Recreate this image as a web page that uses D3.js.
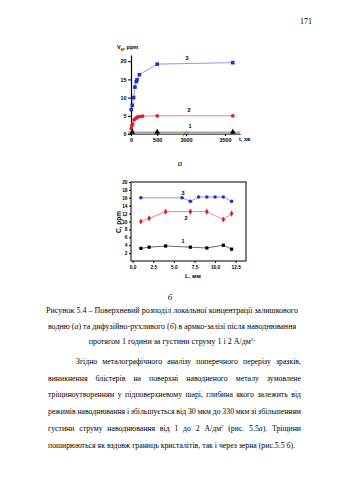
<!DOCTYPE html>
<html><head><meta charset="utf-8">
<script src="https://cdn.jsdelivr.net/npm/d3@7"></script>
<style>html,body{margin:0;padding:0;background:#fff}</style>
</head><body><svg id="s" width="339" height="480"></svg>
<script>
// ---------- DATA ----------
// Chart (а): residual hydrogen vs time
const a3_t = [5, 25, 50, 75, 100, 115, 160, 500, 3600];
const a3_v = [6.7, 7.9, 10.0, 12.9, 14.4, 14.9, 16.3, 19.2, 19.6];
const a2_t = [5, 15, 30, 60, 90, 120, 160, 220, 500, 3600];
const a2_v = [1.5, 2.2, 2.7, 3.9, 4.3, 4.6, 4.8, 4.9, 5.0, 5.0];
const a1_t = [25, 500, 3600];
const a1_v = [0.4, 0.4, 0.4];
const aXTicks = [0, 500, 3000, 3500];
const aYTicks = [0, 5, 10, 15, 20];
// Chart (б): diffusible hydrogen vs distance
const b3_L = [1, 6, 7, 8, 9, 10, 11, 12];
const b3_C = [16, 16, 15.1, 16.2, 16.2, 16.2, 16.2, 15.1];
const b2_L = [1, 2, 4, 7, 9, 11, 12];
const b2_C = [10, 10.8, 12.5, 12.5, 12.5, 10.5, 12];
const b1_L = [1, 2, 4, 7, 9, 11, 12];
const b1_C = [3.2, 3.5, 3.8, 3.5, 3.3, 4.0, 3.0];
const bXTicks = [0, 2.5, 5, 7.5, 10, 12.5];
const bYTicks = [2, 4, 6, 8, 10, 12, 14, 16, 18, 20];

const zip = (xs, ys, kx, ky) => xs.map((x, i) => ({[kx]: x, [ky]: ys[i]}));

const svg = d3.select("#s");
const SANS = "Liberation Sans, Arial, sans-serif";
const SERIF = "Liberation Serif, Times New Roman, serif";
const BLUE = "#1f2fd0", BLUEL = "#6f7fe6", RED = "#e31e1e", REDL = "#ee6a6a";

// page number
svg.append("text").attr("x", 306).attr("y", 24).attr("font-family", SERIF)
  .attr("font-size", 8).attr("text-anchor", "middle").text("171");

// ---------- CHART A ----------
const xA = d3.scaleLinear().domain([0, 1050, 3000, 3700]).range([131, 186, 186, 240.6]);
const yA = d3.scaleLinear().domain([0, 21.7]).range([134, 55]);
const gA = svg.append("g");

gA.append("line").attr("x1", 128).attr("x2", 240).attr("y1", yA(0) - 1).attr("y2", yA(0) - 1)
  .attr("stroke", "#a8a8a8").attr("stroke-width", 3);

const yAxA = gA.append("g").attr("transform", "translate(131,0)")
  .call(d3.axisLeft(yA).tickValues(aYTicks).tickSize(3).tickSizeOuter(0).tickPadding(1.5));
yAxA.selectAll("text").attr("font-family", SANS).attr("font-size", 5.5).attr("font-weight", "bold");
yAxA.select(".domain").attr("stroke-width", 1.2);

const xAxA = gA.append("g").attr("transform", `translate(0,${yA(0)})`)
  .call(d3.axisBottom(xA).tickValues(aXTicks).tickFormat(d3.format("d")).tickSize(2).tickSizeOuter(0).tickPadding(2));
xAxA.selectAll("text").attr("font-family", SANS).attr("font-size", 5.5).attr("font-weight", "bold");
xAxA.select(".domain").attr("stroke", "#555").attr("stroke-width", 0.8);

[-1.5, 1.5].forEach(d => {
  gA.append("line").attr("x1", xA(3000) + d - 1.5).attr("x2", xA(3000) + d + 1.5)
    .attr("y1", yA(0) + 2.5).attr("y2", yA(0) - 2.5).attr("stroke", "#333").attr("stroke-width", 0.6);
});

gA.append("text").attr("x", 117).attr("y", 49).attr("font-family", SANS).attr("font-size", 5.5)
  .attr("font-weight", "bold")
  .call(t => { t.append("tspan").text("V"); t.append("tspan").attr("font-size", 4).attr("dy", 1.5).text("H");
               t.append("tspan").attr("dy", -1.5).text(", ppm"); });
gA.append("text").attr("x", 239).attr("y", 141).attr("font-family", SANS).attr("font-size", 5.5)
  .attr("font-weight", "bold").text("t, хв");

const lineA = d3.line().x(d => xA(d.t)).y(d => yA(d.v));
const A3 = zip(a3_t, a3_v, "t", "v"), A2 = zip(a2_t, a2_v, "t", "v"), A1 = zip(a1_t, a1_v, "t", "v");
gA.append("path").datum(A3).attr("d", lineA).attr("fill", "none").attr("stroke", BLUEL).attr("stroke-width", 0.8);
gA.append("path").datum(A2).attr("d", lineA).attr("fill", "none").attr("stroke", REDL).attr("stroke-width", 0.8);
gA.selectAll(".sq").data(A3).join("rect").attr("x", d => xA(d.t) - 1.8).attr("y", d => yA(d.v) - 1.8)
  .attr("width", 3.6).attr("height", 3.6).attr("fill", BLUE);
gA.selectAll(".ci").data(A2).join("circle").attr("cx", d => xA(d.t)).attr("cy", d => yA(d.v))
  .attr("r", 1.9).attr("fill", RED);
gA.selectAll(".tr").data(A1).join("path")
  .attr("d", d3.symbol(d3.symbolTriangle, 14)).attr("transform", d => `translate(${xA(d.t)},${yA(d.v) - 0.5})`)
  .attr("fill", "#000");

[["3", 187, 60], ["2", 189, 112], ["1", 190, 128]].forEach(([s, x, y]) =>
  gA.append("text").attr("x", x).attr("y", y).attr("font-family", SANS).attr("font-size", 5.5)
    .attr("font-weight", "bold").attr("text-anchor", "middle").text(s));

svg.append("text").attr("x", 180).attr("y", 166).attr("font-family", SERIF).attr("font-style", "italic")
  .attr("font-size", 9).attr("text-anchor", "middle").text("а");

// ---------- CHART B ----------
const xB = d3.scaleLinear().domain([-0.2, 13.75]).range([131, 246]);
const yB = d3.scaleLinear().domain([0, 20]).range([261, 182]);
const gB = svg.append("g");
gB.append("rect").attr("x", 131).attr("y", 182).attr("width", 115).attr("height", 79)
  .attr("fill", "none").attr("stroke", "#000").attr("stroke-width", 1);
const comma = d => d3.format(".1f")(d).replace(".", ",");
const yAxB = gB.append("g").attr("transform", "translate(131,0)")
  .call(d3.axisLeft(yB).tickValues(bYTicks).tickSize(2).tickSizeOuter(0).tickPadding(1.5));
yAxB.selectAll("text").attr("font-family", SANS).attr("font-size", 4.8).attr("font-weight", "bold");
yAxB.select(".domain").remove();
const xAxB = gB.append("g").attr("transform", "translate(0,261)")
  .call(d3.axisBottom(xB).tickValues(bXTicks).tickFormat(comma).tickSize(2).tickSizeOuter(0).tickPadding(2.5));
xAxB.selectAll("text").attr("font-family", SANS).attr("font-size", 4.8).attr("font-weight", "bold");
xAxB.select(".domain").remove();

gB.append("text").attr("transform", "translate(121,222) rotate(-90)").attr("text-anchor", "middle")
  .attr("font-family", SANS).attr("font-size", 6.5).attr("font-weight", "bold").text("C, ppm");
gB.append("text").attr("x", 193).attr("y", 278).attr("text-anchor", "middle")
  .attr("font-family", SANS).attr("font-size", 6).attr("font-weight", "bold").text("L, мм");

const lineB = d3.line().x(d => xB(d.L)).y(d => yB(d.C));
const B3 = zip(b3_L, b3_C, "L", "C"), B2 = zip(b2_L, b2_C, "L", "C"), B1 = zip(b1_L, b1_C, "L", "C");
gB.append("path").datum(B3).attr("d", lineB).attr("fill", "none").attr("stroke", BLUEL).attr("stroke-width", 0.8);
gB.append("path").datum(B2).attr("d", lineB).attr("fill", "none").attr("stroke", REDL).attr("stroke-width", 0.8);
gB.append("path").datum(B1).attr("d", lineB).attr("fill", "none").attr("stroke", "#444").attr("stroke-width", 0.8);
gB.selectAll(".bc").data(B3).join("circle").attr("cx", d => xB(d.L)).attr("cy", d => yB(d.C))
  .attr("r", 1.8).attr("fill", BLUE);
gB.selectAll(".bd").data(B2).join("path").attr("d", d3.symbol(d3.symbolDiamond, 11))
  .attr("transform", d => `translate(${xB(d.L)},${yB(d.C)})`).attr("fill", RED);
gB.selectAll(".bs").data(B1).join("rect").attr("x", d => xB(d.L) - 1.6).attr("y", d => yB(d.C) - 1.6)
  .attr("width", 3.2).attr("height", 3.2).attr("fill", "#000");
[["3", 183, 195], ["2", 186, 220], ["1", 183, 243]].forEach(([s, x, y]) =>
  gB.append("text").attr("x", x).attr("y", y).attr("font-family", SANS).attr("font-size", 5.5)
    .attr("font-weight", "bold").attr("text-anchor", "middle").text(s));

svg.append("text").attr("x", 170).attr("y", 300).attr("font-family", SERIF).attr("font-style", "italic")
  .attr("font-size", 9).attr("text-anchor", "middle").text("б");

// ---------- TEXT ----------
let FS = 8;
function addSegs(t, segs) {
  segs.forEach(s => {
    if (typeof s === "string") t.append("tspan").text(s);
    else {
      const sp = t.append("tspan").text(s.t);
      if (s.i) sp.attr("font-style", "italic");
      if (s.sup) { sp.attr("font-size", FS * 0.6).attr("dy", -3); t.append("tspan").attr("dy", 3).text(""); }
    }
  });
}
// fit caption line 1 to its measured width in the reference
const capW = 252;
{
  const probe = svg.append("text").attr("font-family", SERIF).attr("font-size", 10)
    .text("Рисунок 5.4 – Поверхневий розподіл локальної концентрації залишкового");
  FS = 10 * capW / probe.node().getComputedTextLength();
  probe.remove();
}
const caption = [
  ["Рисунок 5.4 – Поверхневий розподіл локальної концентрації залишкового"],
  ["водню (", {t: "а", i: 1}, ") та дифузійно-рухливого (", {t: "б", i: 1}, ") в армко-залізі після наводнювання"],
  ["протягом 1 години за густини струму 1 і 2 А/дм", {t: "2", sup: 1}, "."]
];
const capY = [313, 328.5, 344];
caption.forEach((segs, i) => {
  const t = svg.append("text").attr("x", 172).attr("y", capY[i]).attr("text-anchor", "middle")
    .attr("font-family", SERIF).attr("font-size", FS);
  addSegs(t, segs);
});

const body = [
  {ind: true, j: true, w: ["Згідно", "металографічного", "аналізу", "поперечного", "перерізу", "зразків,"]},
  {j: true, w: ["виникнення", "блістерів", "на", "поверхні", "наводненого", "металу", "зумовлене"]},
  {j: true, w: ["тріщиноутворенням", "у", "підповерхневому", "шарі,", "глибина", "якого", "залежить", "від"]},
  {j: true, w: ["режимів", "наводнювання", "і", "збільшується", "від", "30", "мкм", "до", "330", "мкм", "зі", "збільшенням"]},
  {j: true, w: ["густини", "струму", "наводнювання", "від", "1", "до", "2", ["А/дм", {t: "2", sup: 1}], "(рис.", ["5.5", {t: "а", i: 1}, ")."], "Тріщини"]},
  {j: false, w: ["поширюються", "як", "вздовж", "границь", "кристалітів,", "так", "і", "через", "зерна", "(рис.5.5", ["б", ")."]]}
];
const X0 = 48, X1 = 301, bodyY0 = 364, LH = 16.7;
// body font: fit the tightest justified line with a minimal word gap
let BFS = FS;
{
  let scale = 1;
  body.filter(l => l.j).forEach(ln => {
    const start = ln.ind ? X0 + 28 : X0;
    const ws = ln.w.map(w => {
      const t = svg.append("text").attr("font-family", SERIF).attr("font-size", FS);
      addSegs(t, Array.isArray(w) ? w : [w]);
      const L = t.node().getComputedTextLength(); t.remove(); return L;
    });
    const need = d3.sum(ws) + (ws.length - 1) * FS * 0.22;
    scale = Math.min(scale, (X1 - start) / need);
  });
  BFS = FS * scale;
}
body.forEach((ln, i) => {
  const y = bodyY0 + i * LH;
  const start = ln.ind ? X0 + 28 : X0;
  const nodes = ln.w.map(w => {
    const t = svg.append("text").attr("y", y).attr("font-family", SERIF).attr("font-size", BFS);
    addSegs(t, Array.isArray(w) ? w : [w]);
    return t;
  });
  const widths = nodes.map(n => n.node().getComputedTextLength());
  const total = d3.sum(widths);
  const gap = ln.j ? (X1 - start - total) / (nodes.length - 1) : BFS * 0.25;
  let x = start;
  nodes.forEach((n, k) => { n.attr("x", x); x += widths[k] + gap; });
});
</script></body></html>
